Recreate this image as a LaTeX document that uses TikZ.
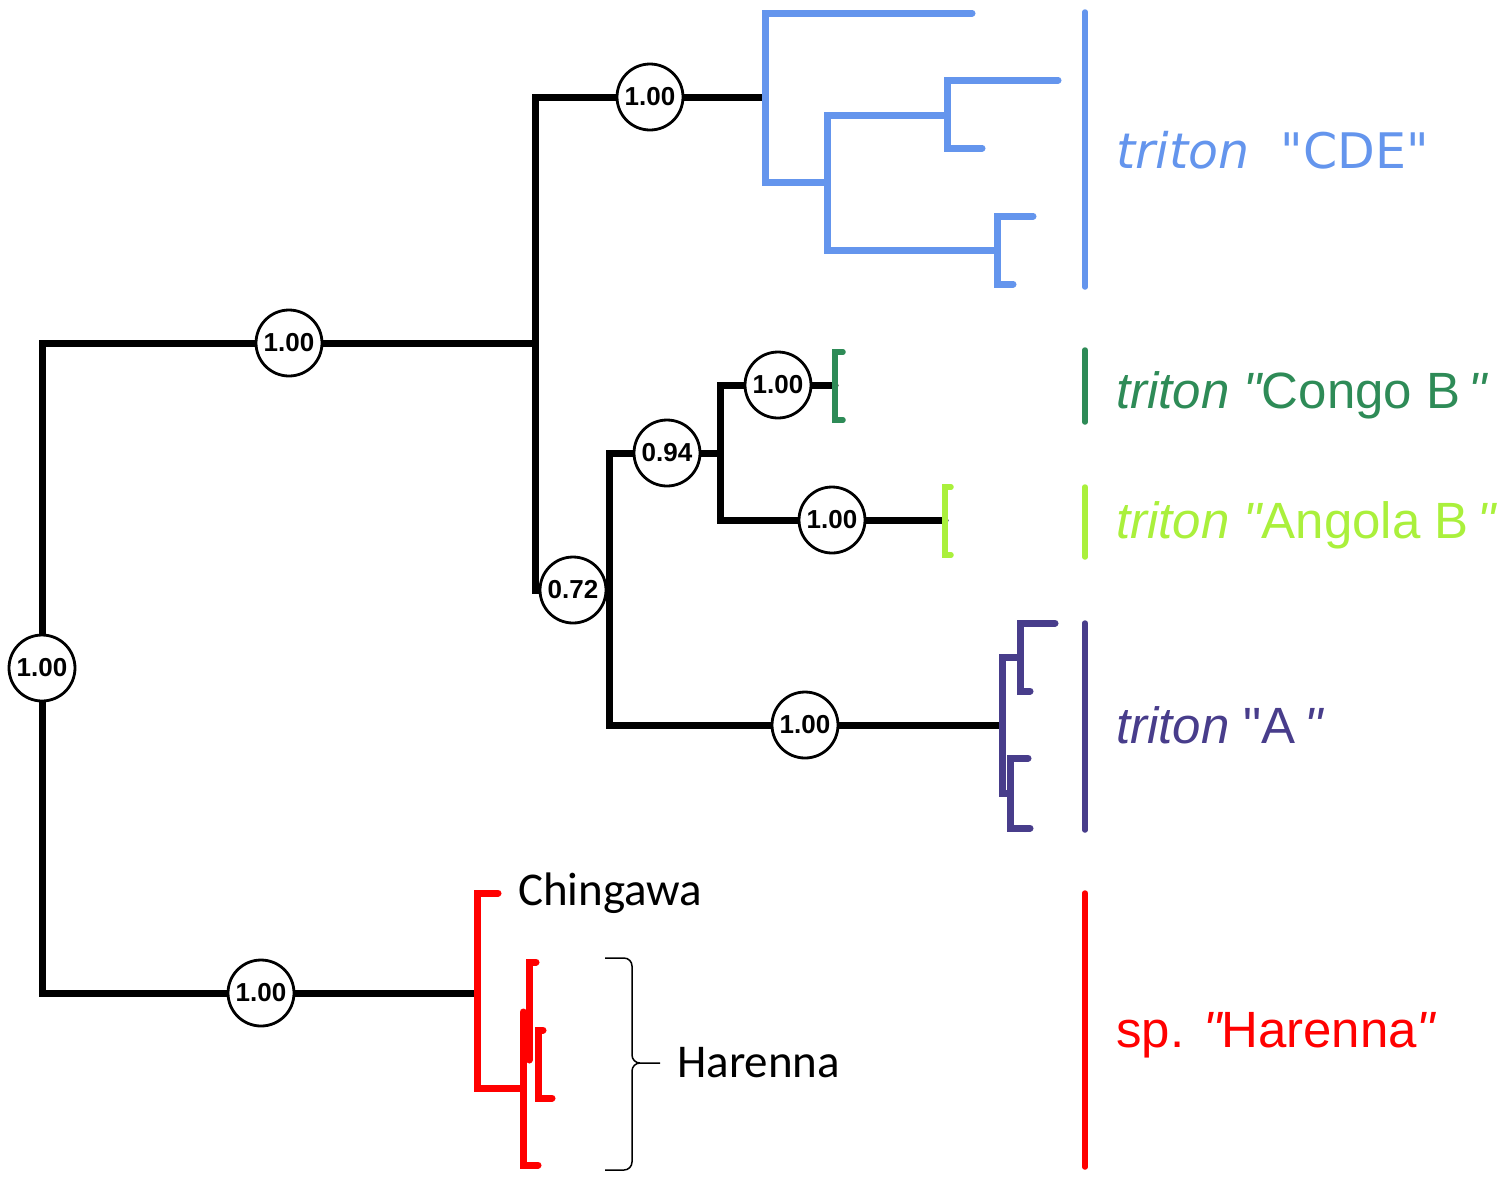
\documentclass[tikz,border=0pt]{standalone}
\usepackage{fontspec}
\setmainfont{Liberation Sans}[Ligatures=TeXOff]
\newfontfamily\dejavu{DejaVu Sans}
\newfontfamily\carlito{Carlito}
\newcommand\dq{\symbol{34}}
\definecolor{cde}{RGB}{100,149,237}
\definecolor{congo}{RGB}{46,139,87}
\definecolor{angola}{RGB}{170,240,60}
\definecolor{cladeA}{RGB}{72,61,139}
\definecolor{har}{RGB}{255,0,0}
\begin{document}
\begin{tikzpicture}[x=1pt,y=-1pt,
  br/.style={line width=7pt,line cap=round,line join=miter},
  bar/.style={line width=5.5pt,line cap=round},
  pp/.style={circle,draw,line width=2.8pt,fill=white,minimum size=66pt,inner sep=0pt,font=\bfseries\fontsize{26}{26}\selectfont},
  lab/.style={anchor=base west,inner sep=0pt,font=\fontsize{51}{60}\selectfont},
  blk/.style={anchor=base west,inner sep=0pt,font=\carlito\fontsize{47}{55}\selectfont}]
\useasboundingbox (0,0) rectangle (1504,1179);
% black backbone coordinates
\coordinate (Rt) at (42,343);
\coordinate (Rb) at (42,993);
\coordinate (N1t) at (535,97);
\coordinate (N1) at (535,343);
\coordinate (N1b) at (535,590);
\coordinate (N2t) at (609,453);
\coordinate (N2) at (609,590);
\coordinate (N2b) at (609,725);
\coordinate (N3t) at (720,385);
\coordinate (N3) at (720,453);
\coordinate (N3b) at (720,520);
\coordinate (Cr) at (765,97);
\coordinate (Cg) at (835,385);
\coordinate (Ag) at (945,520);
\coordinate (Ar) at (1002,725);
\coordinate (Hr) at (477,993);
\draw[br] (Cr) -- (N1t) -- (N1b) -- (N2);
\draw[br] (Hr) -- (Rb) -- (Rt) -- (N1);
\draw[br] (N3) -- (N2t) -- (N2b) -- (Ar);
\draw[br] (Cg) -- (N3t) -- (N3b) -- (Ag);
% CDE clade
\coordinate (C0t) at (765,13);
\coordinate (C0b) at (765,182);
\coordinate (T1) at (972,13);
\coordinate (C1t) at (827,115);
\coordinate (C1) at (827,182);
\coordinate (C1b) at (827,250);
\coordinate (C2t) at (947,80);
\coordinate (C2) at (947,115);
\coordinate (C2b) at (947,148);
\coordinate (T2) at (1058,80);
\coordinate (T3) at (982,148);
\coordinate (C3t) at (997,216);
\coordinate (C3) at (997,250);
\coordinate (C3b) at (997,284);
\coordinate (T4) at (1033,216);
\coordinate (T5) at (1013,284);
\draw[cde,br] (T1) -- (C0t) -- (C0b) -- (C1);
\draw[cde,br] (C2) -- (C1t) -- (C1b) -- (C3);
\draw[cde,br] (T2) -- (C2t) -- (C2b) -- (T3);
\draw[cde,br] (T4) -- (C3t) -- (C3b) -- (T5);
% Congo B and Angola B brackets
\coordinate (G1) at (843,352);
\coordinate (G2) at (835,352);
\coordinate (G3) at (835,420);
\coordinate (G4) at (843,420);
\draw[congo,br,line width=5.5pt] (G1) -- (G2) -- (G3) -- (G4);
\coordinate (L1) at (951,487);
\coordinate (L2) at (945,487);
\coordinate (L3) at (945,555);
\coordinate (L4) at (951,555);
\draw[angola,br,line width=5.5pt] (L1) -- (L2) -- (L3) -- (L4);
% clade A
\coordinate (A0t) at (1002,657);
\coordinate (A0b) at (1002,793);
\coordinate (A1t) at (1020,623);
\coordinate (A1) at (1020,657);
\coordinate (A1b) at (1020,691);
\coordinate (A2t) at (1010,758);
\coordinate (A2) at (1010,793);
\coordinate (A2b) at (1010,828);
\coordinate (TA1) at (1055,623);
\coordinate (TA2) at (1030,691);
\coordinate (TA3) at (1028,758);
\coordinate (TA4) at (1030,828);
\draw[cladeA,br] (A1) -- (A0t) -- (A0b) -- (A2);
\draw[cladeA,br] (TA1) -- (A1t) -- (A1b) -- (TA2);
\draw[cladeA,br] (TA3) -- (A2t) -- (A2b) -- (TA4);
% Harenna clade
\coordinate (H0t) at (477,893);
\coordinate (H0b) at (477,1088);
\coordinate (TH0) at (498,893);
\coordinate (H1) at (523,1088);
\coordinate (H1t) at (523,1012);
\coordinate (H1b) at (523,1165);
\coordinate (TH1) at (538,1165);
\coordinate (H2t) at (529,962);
\coordinate (H2b) at (529,1060);
\coordinate (TH2) at (536,962);
\coordinate (H3t) at (538,1030);
\coordinate (H3b) at (538,1098);
\coordinate (TH3) at (543,1030);
\coordinate (TH4) at (552,1098);
\draw[har,br] (TH0) -- (H0t) -- (H0b) -- (H1);
\draw[har,br] (H1t) -- (H1b) -- (TH1);
\draw[har,br] (TH2) -- (H2t) -- (H2b);
\draw[har,br] (TH3) -- (H3t) -- (H3b) -- (TH4);
% support values
\node[pp] (s0) at (42,668) {1.00};
\node[pp] (s1) at (289,343) {1.00};
\node[pp] (s2) at (650,97) {1.00};
\node[pp] (s3) at (573,590) {0.72};
\node[pp] (s4) at (667,453) {0.94};
\node[pp] (s5) at (778,385) {1.00};
\node[pp] (s6) at (832,520) {1.00};
\node[pp] (s7) at (805,725) {1.00};
\node[pp] (s8) at (261,993) {1.00};
% clade bars
\coordinate (B1t) at (1085,12);
\coordinate (B1b) at (1085,287);
\coordinate (B2t) at (1085,350);
\coordinate (B2b) at (1085,422);
\coordinate (B3t) at (1085,487);
\coordinate (B3b) at (1085,557);
\coordinate (B4t) at (1085,623);
\coordinate (B4b) at (1085,830);
\coordinate (B5t) at (1085,893);
\coordinate (B5b) at (1085,1167);
\draw[bar,cde] (B1t) -- (B1b);
\draw[bar,congo] (B2t) -- (B2b);
\draw[bar,angola] (B3t) -- (B3b);
\draw[bar,cladeA] (B4t) -- (B4b);
\draw[bar,har] (B5t) -- (B5b);
% clade labels
\node[lab,text=cde,font=\dejavu\fontsize{49}{58}\selectfont] (lCDE) at (1116,168) {{\itshape triton}\ \ \dq CDE{\itshape\dq}};
\node[lab,text=congo] (lCongo) at (1116,408) {{\itshape triton} {\itshape\dq}Congo B\,{\itshape\dq}};
\node[lab,text=angola] (lAngola) at (1116,538) {{\itshape triton} {\itshape\dq}Angola B\,{\itshape\dq}};
\node[lab,text=cladeA] (lA) at (1116,743) {{\itshape triton} \dq A\,{\itshape\dq}};
\node[lab,text=har] (lHar) at (1116,1047) {sp. {\itshape\dq}Harenna{\itshape\dq}};
% tip labels
\node[blk] (lChing) at (518,905) {Chingawa};
\node[blk] (lHaren) at (677,1077) {Harenna};
% brace
\coordinate (Bt) at (605,958);
\coordinate (Bb) at (605,1170);
\coordinate (Bm) at (640,1063);
\coordinate (Be) at (660,1063);
\draw[line width=1.5pt] (Bt) -- (624,958) to[out=0,in=90] (632,966) -- (632,1055) to[out=-90,in=180] (Bm) -- (Be);
\draw[line width=1.5pt] (Bm) to[out=180,in=90] (632,1071) -- (632,1162) to[out=-90,in=0] (624,1170) -- (Bb);
\end{tikzpicture}
\end{document}
